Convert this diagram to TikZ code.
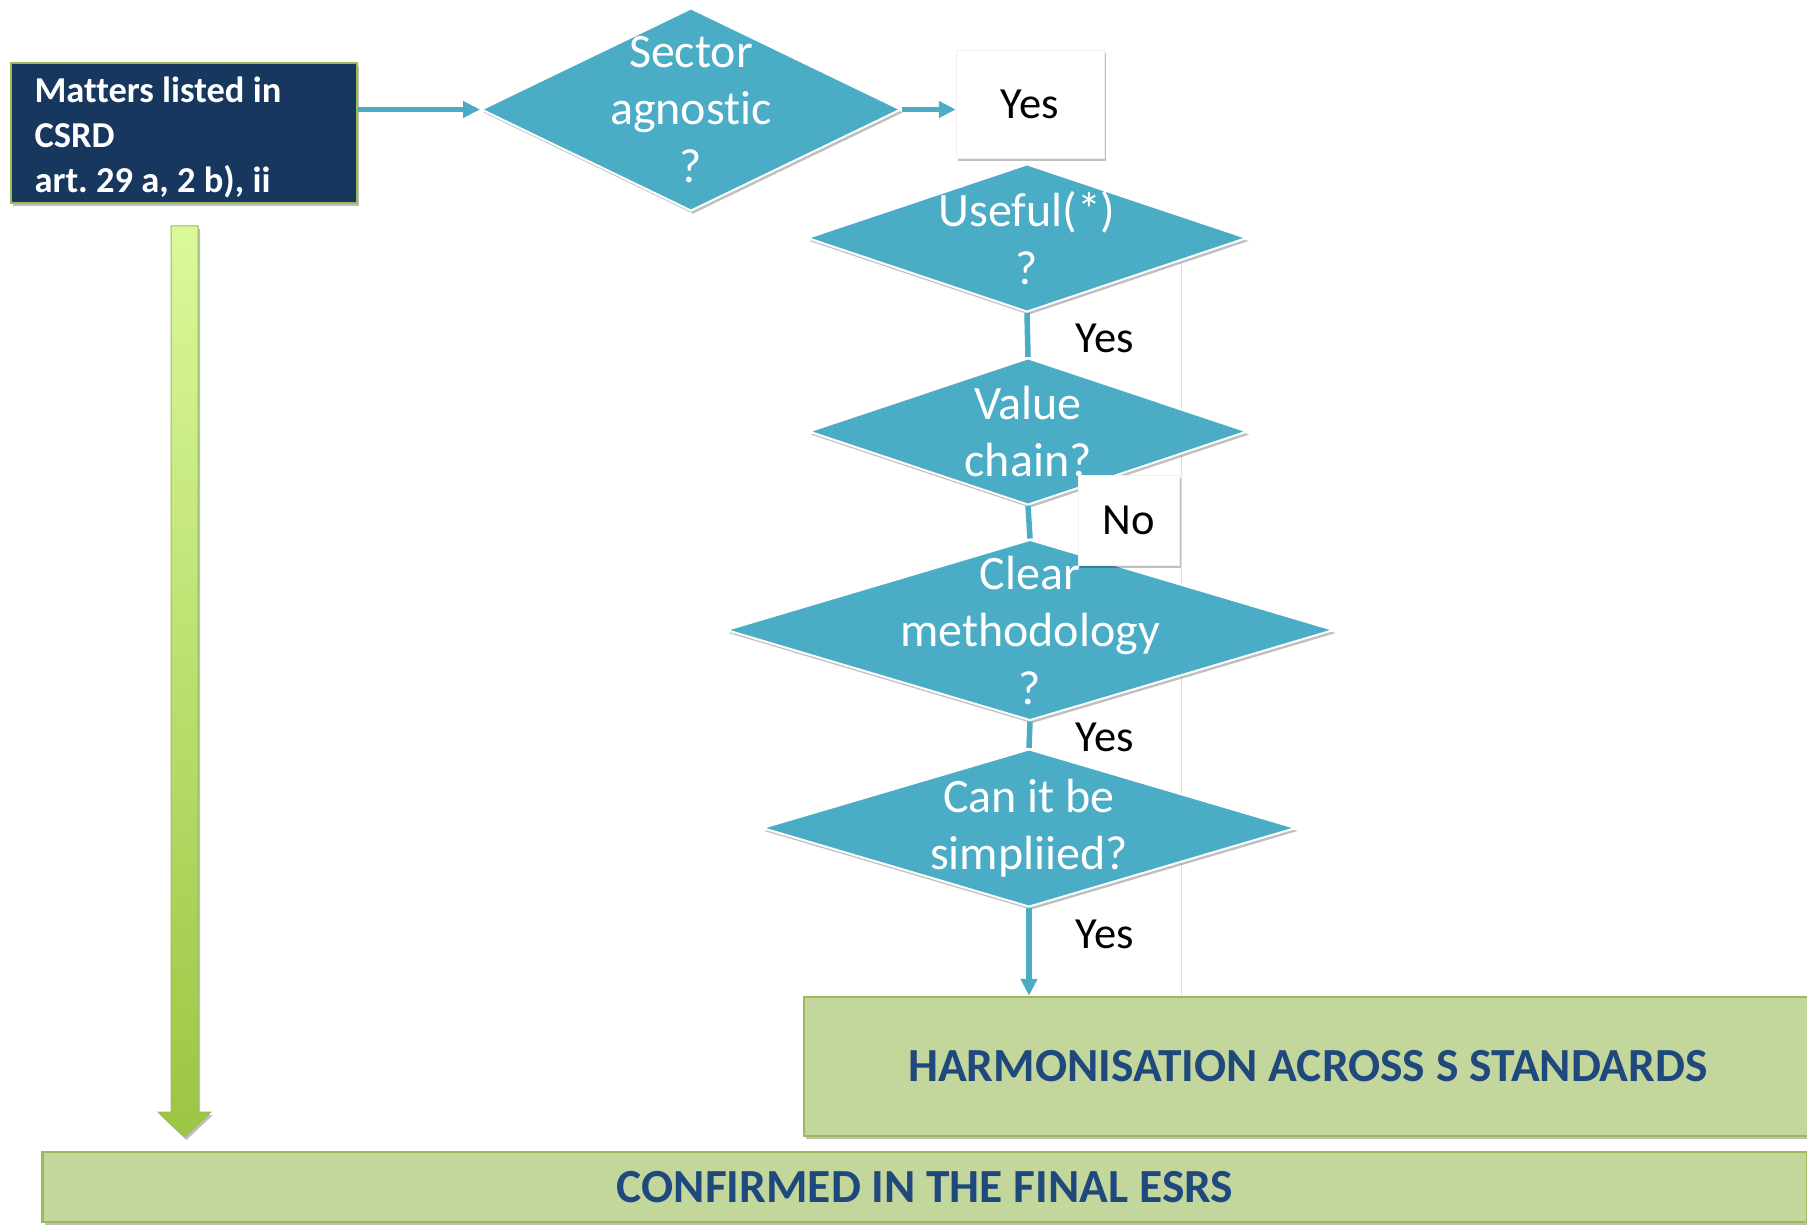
\documentclass[tikz,border=0pt]{standalone}
\usepackage{fontspec}
\setmainfont{Carlito}[RawFeature=-liga]
\frenchspacing
\usetikzlibrary{shapes.geometric,arrows.meta,shadows}
\definecolor{tealA}{HTML}{4BACC6}
\definecolor{navybox}{HTML}{17375E}
\definecolor{navytext}{HTML}{1F497D}
\definecolor{gfill}{HTML}{C3D69B}
\definecolor{gborder}{HTML}{9BBB59}
\definecolor{arrtop}{HTML}{DAF99B}
\definecolor{arrbot}{HTML}{9CC542}
\begin{document}
\begin{tikzpicture}[x=1pt,y=-1pt,
  shd/.style={drop shadow={shadow xshift=2pt,shadow yshift=-3pt,opacity=0.25,fill=black}},
  dia/.style={diamond, fill=tealA, draw=white, line width=2pt, inner sep=0pt, shd},
  dtext/.style={text=white, align=center, font=\fontsize{48}{57.5}\selectfont},
  lbl/.style={text=black, font=\fontsize{44.5}{53}\selectfont},
  wbox/.style={fill=white, draw=black!6, line width=0.5pt, inner sep=0pt, shd, font=\fontsize{44.5}{53}\selectfont},
  gbox/.style={fill=gfill, draw=gborder, line width=2.5pt, inner sep=0pt, shd, text=navytext, font=\bfseries\fontsize{47.5}{57}\selectfont},
  conn/.style={draw=tealA, line width=5.5pt},
  arr/.style={conn, -{Triangle[length=17pt,width=16pt]}}
]
\clip (0,0) rectangle (1807,1225);
\fill[white] (0,0) rectangle (1807,1225);

% faint edge of background panel
\draw[black!12, line width=1pt] (1181,263) -- (1181,997);

% green block arrow
\path[draw=gborder, line width=1pt, top color=arrtop, bottom color=arrbot, shd]
  (171,226) -- (198,226) -- (198,1112) -- (211,1112) -- (184.5,1137)
  -- (158,1112) -- (171,1112) -- cycle;

% navy source box
\node[fill=navybox, draw=gborder, line width=2pt, minimum width=346, minimum height=140, inner sep=0pt, shd] (src) at (184,133) {};
\node[anchor=west, text=white, align=left, font=\bfseries\fontsize{36.5}{45}\selectfont] (srctxt) at (31,137)
  {Matters listed in\\CSRD\\art. 29 a, 2 b), ii};

% diamonds
\node[dia, minimum width=420, minimum height=203] (sector) at (691,109.5) {};
\node[dtext] at (sector) {Sector\\agnostic\\?};

\node[dia, minimum width=440, minimum height=148] (useful) at (1027,238) {};
\node[dtext] at (useful) {Useful(*)\\?};

\node[dia, minimum width=439, minimum height=147] (value) at (1028,431.5) {};
\node[dtext] at (value) {Value\\chain?};

\node[dia, minimum width=608, minimum height=181] (clear) at (1030,630) {};
\node[dtext] at (clear) {Clear\\methodology\\?};

\node[dia, minimum width=534, minimum height=158] (can) at (1029,828) {};
\node[dtext] at (can) {Can it be\\simpliied?};

% result boxes
\node[gbox, minimum width=1008, minimum height=139] (harm) at (1308,1066.5) {HARMONISATION ACROSS S STANDARDS};
\node[gbox, minimum width=1765, minimum height=70] (conf) at (925,1187) {CONFIRMED IN THE FINAL ESRS};

% top Yes box
\node[wbox, minimum width=148, minimum height=108] (yes1) at (1030,104) {Yes};

% connectors
\draw[arr] (src.east |- sector.west) -- (sector.west);
\draw[arr] (sector.east) -- (sector.east -| yes1.west);
\draw[conn] (useful.south) -- (value.north);
\draw[conn] (value.south) -- (clear.north);
\draw[conn] (clear.south) -- (can.north);
\draw[arr] (can.south) -- (can.south |- harm.north);

% labels
\node[lbl] (yes2) at (1105,338) {Yes};
\node[lbl] (yes3) at (1105,737.5) {Yes};
\node[lbl] (yes4) at (1105,934.5) {Yes};

% No box
\node[wbox, minimum width=101, minimum height=90] (no) at (1128.5,520) {No};
\end{tikzpicture}
\end{document}
